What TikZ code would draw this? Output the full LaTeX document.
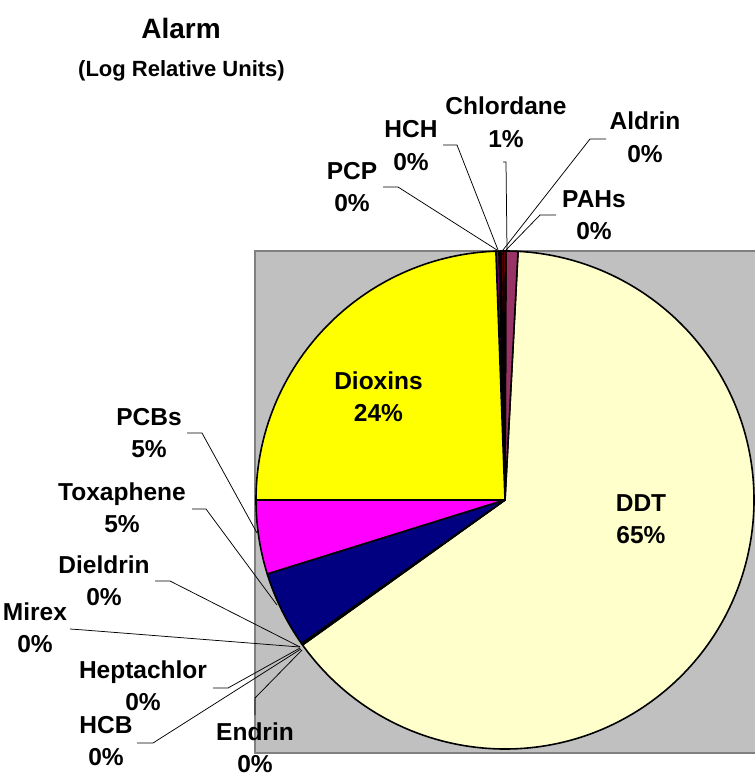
\documentclass[tikz,border=0pt]{standalone}
\usepackage{fontspec}
\setmainfont{Liberation Sans}
\definecolor{plotgray}{HTML}{C0C0C0}
\definecolor{plotborder}{HTML}{808080}
\definecolor{ddtcol}{HTML}{FFFFCC}
\definecolor{dioxcol}{HTML}{FFFF00}
\definecolor{pcbcol}{HTML}{FF00FF}
\definecolor{toxcol}{HTML}{000080}
\definecolor{chlcol}{HTML}{993366}
\definecolor{purp}{HTML}{800080}
\definecolor{dred}{HTML}{800000}
\tikzset{
  lbl/.style={font=\bfseries\fontsize{24.5}{32.5}\selectfont, align=center, anchor=base, inner sep=0pt, yshift=-32.5pt},
  leader/.style={draw=black, line width=0.75pt},
  slicestyle/.style={draw=black, line width=1.6pt, line join=round},
}
\newcommand{\pieslice}[3]{%
  \filldraw[slicestyle, fill=#3] (c) -- ++({-#1}:249) arc[start angle={-#1}, end angle={-#2}, radius=249] -- cycle;}
\begin{document}
\begin{tikzpicture}[x=1pt,y=-1pt]
\useasboundingbox (0,0) rectangle (754,778);
\fill[white] (0,0) rectangle (754,778);
% plot area
\draw[draw=plotborder, fill=plotgray, line width=2pt] (255,251) rectangle (760,753);
% title
\node[font=\bfseries\fontsize{28}{32}\selectfont, anchor=base, inner sep=0pt] (title) at (181,39) {Alarm};
\node[font=\bfseries\fontsize{22}{26}\selectfont, anchor=base, inner sep=0pt] (subtitle) at (181.5,77) {(Log Relative Units)};
% pie centre
\coordinate (c) at (505,500);
% labels (position = baseline of first line)
\node[lbl] (pcp) at (352,179) {PCP\\0\%};
\node[lbl] (hch) at (411,138) {HCH\\0\%};
\node[lbl] (chl) at (506,115) {Chlordane\\1\%};
\node[lbl] (ald) at (645,130) {Aldrin\\0\%};
\node[lbl] (pah) at (594,207) {PAHs\\0\%};
\node[lbl] (pcb) at (149,425) {PCBs\\5\%};
\node[lbl] (tox) at (122,500) {Toxaphene\\5\%};
\node[lbl] (die) at (104,573) {Dieldrin\\0\%};
\node[lbl] (mir) at (35,620) {Mirex\\0\%};
\node[lbl] (hep) at (143,678) {Heptachlor\\0\%};
\node[lbl] (hcb) at (106,733) {HCB\\0\%};
% leader coordinates
\coordinate (pcpA) at (383,187); \coordinate (pcpB) at (398,187); \coordinate (pcpE) at (497,250);
\coordinate (hchA) at (443,145); \coordinate (hchB) at (457,145); \coordinate (hchE) at (498,250);
\coordinate (chlA) at (503,162); \coordinate (chlB) at (506,162); \coordinate (chlE) at (507,250);
\coordinate (aldA) at (606,139); \coordinate (aldB) at (590,139); \coordinate (aldE) at (503,250);
\coordinate (pahA) at (556,215); \coordinate (pahB) at (540,215); \coordinate (pahE) at (506,250);
\coordinate (pcbA) at (187,433); \coordinate (pcbB) at (202,433); \coordinate (pcbE) at (257,533);
\coordinate (toxA) at (192,509); \coordinate (toxB) at (206,509); \coordinate (toxE) at (277,605);
\coordinate (dieA) at (155,581); \coordinate (dieB) at (170,581); \coordinate (dieE) at (300,647);
\coordinate (mirA) at (70,629);  \coordinate (mirB) at (84,630);  \coordinate (mirE) at (300,647);
\coordinate (hepA) at (213,688); \coordinate (hepB) at (228,688); \coordinate (hepE) at (300,648);
\coordinate (hcbA) at (137,743); \coordinate (hcbB) at (153,743); \coordinate (hcbE) at (301,649);
\coordinate (endA) at (255,715); \coordinate (endB) at (255,698); \coordinate (endE) at (302,650);
\foreach \n in {pcp,hch,chl,ald,pah,pcb,tox,die,mir,hep,hcb,end}
  \draw[leader] (\n A) -- (\n B) -- (\n E);
% pie slices (visual angles, counter-clockwise)
\pieslice{-144.4}{87.0}{ddtcol}
\pieslice{87.0}{89.8}{chlcol}
\pieslice{89.8}{90.4}{dred}
\pieslice{90.4}{91.0}{dred}
\pieslice{91.0}{91.4}{toxcol}
\pieslice{91.4}{92.1}{purp}
\pieslice{92.1}{180}{dioxcol}
\pieslice{180}{197.3}{pcbcol}
\pieslice{197.3}{215.2}{toxcol}
\pieslice{215.2}{215.6}{purp}
% labels inside / over the plot
\node[lbl] (diox) at (378.5,389) {Dioxins\\24\%};
\node[lbl] (ddt) at (641,511) {DDT\\65\%};
\node[lbl] (endr) at (255,740) {Endrin\\0\%};
\end{tikzpicture}
\end{document}
